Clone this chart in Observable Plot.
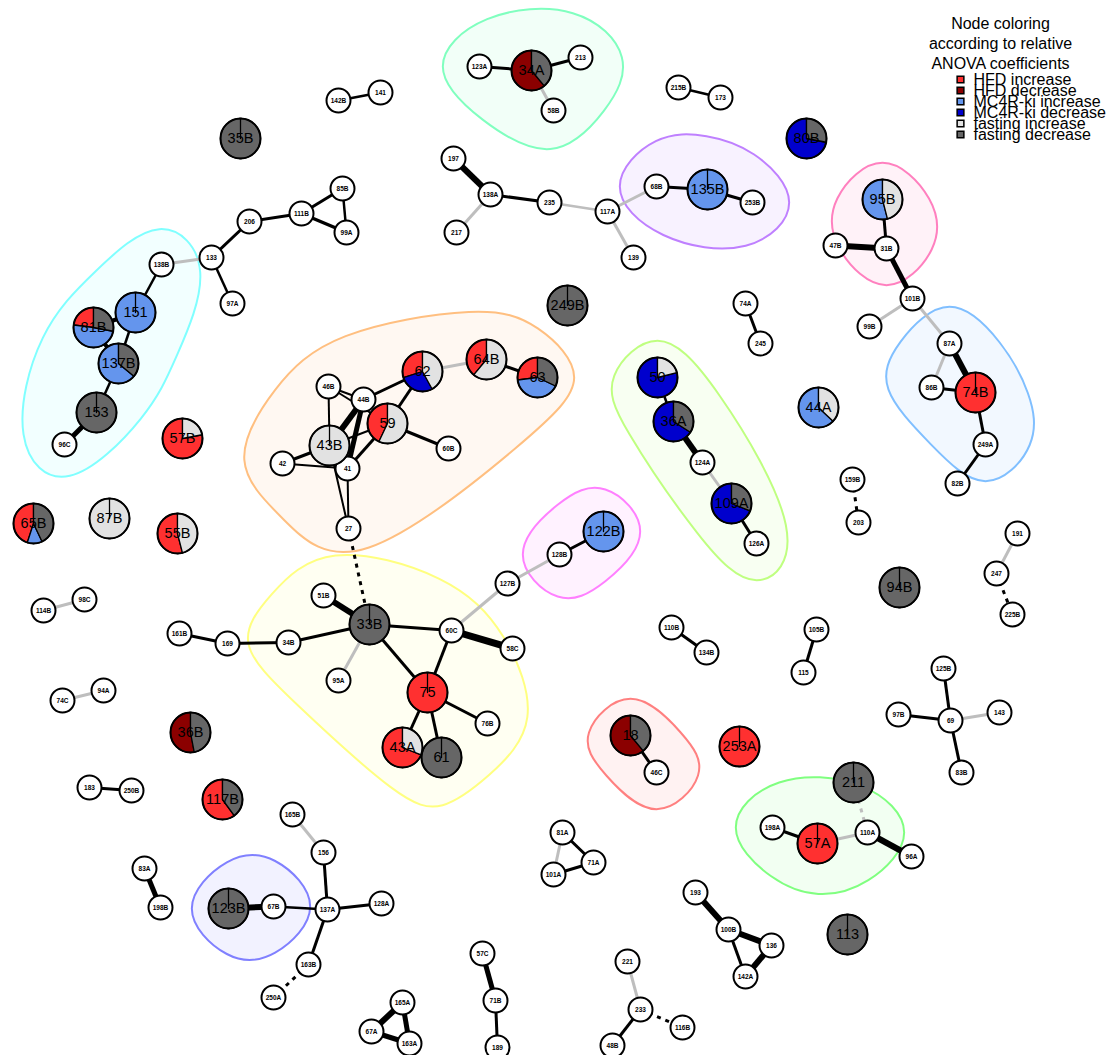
<!DOCTYPE html>
<html>
<head>
<meta charset="utf-8">
<script src="https://cdn.jsdelivr.net/npm/d3@7"></script>
<script src="https://cdn.jsdelivr.net/npm/@observablehq/plot@0.6"></script>
<style>
  body { margin: 0; background: #fff; }
  svg { display: block; }
</style>
</head>
<body>
<div id="chart"></div>
<script>
// ---------- network data ----------
// Vertex identifiers and their 2-D layout coordinates
const nodeIds = ["142B","141","35B","85B","111B","99A","206","133","123A","34A","213","58B","215B","173","197","138A","217","235","117A","139","68B","135B","253B","80B","95B","47B","31B","138B","97A","151","81B","137B","153","96C","57B","65B","87B","55B","46B","44B","43B","59","42","41","27","62","64B","63","60B","249B","74A","245","101B","99B","87A","86B","74B","249A","82B","50","36A","124A","109A","126A","44A","159B","203","191","247","225B","94B","122B","128B","127B","51B","33B","34B","95A","60C","58C","75","76B","43A","61","114B","98C","161B","169","74C","94A","36B","183","250B","117B","110B","134B","105B","115","125B","97B","69","143","83B","18","46C","253A","211","198A","57A","110A","96A","81A","71A","101A","165B","156","83A","198B","123B","67B","137A","128A","163B","250A","165A","67A","163A","57C","71B","189","193","100B","136","142A","113","221","233","116B","48B"];
const layoutX = [338,380,240,342,301,346,249,211,479,531,580,553,678,720,453,490,456,549,607,633,656,707,752,806,882,835,886,161,232,135,93,118,96,64,182,33,109,177,328,363,329,387,282,347,348,422,486,537,448,567,745,760,912,869,949,931,975,985,957,657,673,702,731,756,818,852,858,1017,996,1012,899,603,559,507,323,369,288,338,451,512,427,487,402,441,43,84,179,227,62,103,190,89,131,222,671,706,816,803,943,898,950,999,961,630,656,739,853,772,817,867,911,562,593,553,292,323,144,160,228,273,327,381,308,273,402,371,409,482,495,497,695,728,771,745,847,627,640,682,612];
const layoutY = [100,92,138,188,213,232,221,257,66,70,57,110,87,97,158,194,232,202,211,257,186,189,202,138,199,245,248,264,303,312,327,363,412,444,438,523,518,533,386,399,445,423,463,468,528,371,359,377,448,305,303,343,298,326,343,387,392,444,483,377,421,462,503,543,407,479,522,533,573,614,587,531,554,583,595,624,642,680,630,648,692,723,747,757,610,599,633,643,700,690,732,787,790,799,627,652,629,672,668,714,720,712,772,735,772,746,782,827,843,832,856,832,862,874,814,852,868,907,908,906,909,903,964,997,1002,1031,1043,953,1000,1047,892,929,945,976,934,961,1009,1027,1045];

// Edges: endpoints, weight and correlation type
const edgeSource = ["142B","206","111B","111B","85B","206","133","133","138B","151","151","81B","137B","153","123A","34A","34A","215B","197","138A","138A","235","117A","117A","68B","135B","95B","47B","31B","101B","101B","87A","87A","86B","74B","249A","74A","50","36A","124A","109A","159B","191","247","46B","46B","46B","44B","44B","44B","42","42","43B","41","43B","27","27","59","59","62","64B","27","51B","33B","34B","169","33B","33B","33B","60C","60C","60C","127B","128B","75","75","75","114B","74C","183","110B","105B","125B","97B","69","69","18","211","198A","57A","110A","165B","156","67B","123B","137A","137A","163B","83A","165A","165A","67A","57C","71B","81A","81A","101A","193","100B","136","100B","233","233","233"];
const edgeTarget = ["141","111B","85B","99A","99A","133","138B","97A","151","81B","137B","137B","153","96C","34A","213","58B","173","138A","217","235","117A","68B","139","135B","253B","31B","31B","101B","99B","87A","74B","86B","74B","249A","82B","245","36A","124A","109A","126A","203","247","225B","43B","44B","59","43B","41","62","43B","41","59","59","41","41","43B","62","60B","64B","63","33B","33B","34B","169","161B","95A","60C","75","58C","127B","75","128B","122B","76B","43A","61","98C","94A","250B","134B","115","69","69","143","83B","46C","110A","57A","110A","96A","156","137A","137A","67B","128A","163B","250A","198B","67A","163A","163A","71B","189","71A","101A","71A","100B","136","142A","142A","221","48B","116B"];
const edgeWeight = [2.5,3,3,3.5,2.5,3,3,2.5,2.5,4,2.5,4,2.5,5,3,3,3,2.5,6,3,3,2.5,3,3,3,3,3,6,5,3,3,6,3,3,3,3,3,2.5,6,3,3,3,3,3,2,2,2,6,5,3,3,2,2,3,3,2,2,3,3,3,3,3,6,3,3,3,3,3,3,7,3,3,3,3,3,3,3,3,3,3,3,3,3,3,3,3,3,3,3,3,6,3,3,2.5,6,3,3,3,5,6,5,5,5,3,3,3,3,6,6,6,3,3,3,3];
const edgeType = ["pos","pos","pos","pos","pos","pos","neg","pos","pos","pos","pos","pos","pos","pos","pos","pos","neg","pos","pos","neg","pos","neg","neg","neg","pos","pos","pos","pos","pos","neg","neg","pos","neg","pos","pos","pos","pos","pos","pos","neg","pos","partial","neg","partial","pos","pos","pos","pos","pos","pos","pos","pos","pos","pos","pos","pos","pos","pos","pos","neg","pos","partial","pos","pos","pos","pos","neg","pos","pos","pos","neg","pos","neg","pos","pos","pos","pos","neg","neg","pos","pos","pos","pos","pos","neg","pos","pos","negPartial","pos","neg","pos","neg","pos","pos","pos","pos","pos","partial","pos","pos","pos","pos","pos","pos","pos","neg","pos","pos","pos","pos","pos","neg","pos","partial"];

// Relative ANOVA coefficients for the responding vertices
const categories = ["HFD increase","HFD decrease","MC4R-ki increase","MC4R-ki decrease","fasting increase","fasting decrease"];
const anovaNodes = ["35B","34A","80B","135B","95B","151","81B","137B","153","57B","65B","87B","55B","43B","59","62","64B","63","249B","50","36A","109A","44A","74B","94B","122B","33B","75","43A","61","36B","117B","18","253A","211","57A","113","123B"];
const hfdIncrease     = [0,0,0,0,0,0,.23,0,0,.78,.45,0,.54,0,.43,.30,.39,.27,0,0,0,0,0,1,0,0,0,1,.69,0,0,.60,0,1,0,1,0,0];
const hfdDecrease     = [0,.61,0,0,0,0,0,0,0,0,0,0,0,0,0,0,0,0,0,0,0,0,0,0,0,0,0,0,0,0,.53,0,.61,0,0,0,0,0];
const mc4rIncrease    = [0,0,0,1,.54,1,.49,.64,0,0,.12,0,0,0,0,0,0,.41,0,0,0,0,.63,0,0,1,0,0,0,0,0,0,0,0,0,0,0,0];
const mc4rDecrease    = [0,0,.72,0,0,0,0,0,0,0,0,0,0,0,0,.28,0,0,0,.79,.66,.69,0,0,0,0,0,0,0,0,0,0,0,0,0,0,0,0];
const fastingIncrease = [0,0,0,0,.46,0,0,0,0,.22,0,1,.46,1,.57,.42,.61,0,0,.21,0,0,.37,0,0,0,0,0,.31,0,0,0,0,0,0,0,0,0];
const fastingDecrease = [1,.39,.28,0,0,0,.28,.36,1,0,.43,0,0,0,0,0,0,.32,1,0,.34,.31,0,0,1,0,1,0,0,1,.47,.40,.39,0,1,0,1,1];

// Co-regulated modules
const moduleMembers = [
  ["18","46C"],
  ["46B","44B","43B","59","62","64B","63","42","41","27","60B"],
  ["51B","33B","34B","95A","60C","75","76B","43A","61"],
  ["50","36A","124A","109A","126A"],
  ["198A","57A","110A"],
  ["123A","34A","213","58B"],
  ["138B","151","81B","137B","153","96C"],
  ["87A","86B","74B","249A"],
  ["123B","67B"],
  ["68B","135B","253B"],
  ["128B","122B"],
  ["95B","31B"]
];

// ---------- styling ----------
const categoryColors = ["#ff3030","#8b0000","#6495ed","#0000cd","#e2e2e2","#666666"];
const moduleColors = moduleMembers.map((_, i) => d3.hsl(i * 360 / moduleMembers.length, 1, 0.75).formatHex());
const font = "Liberation Sans, Arial, Helvetica, sans-serif";
const rSmall = 12, rLarge = 20;

const pos = new Map(nodeIds.map((id, i) => [id, [layoutX[i], layoutY[i]]]));
const anovaSet = new Set(anovaNodes);
const nodes = nodeIds.map((id, i) => ({id, x: layoutX[i], y: layoutY[i], large: anovaSet.has(id)}));

// edges
const edges = edgeSource.map((s, i) => ({
  x1: pos.get(s)[0], y1: pos.get(s)[1],
  x2: pos.get(edgeTarget[i])[0], y2: pos.get(edgeTarget[i])[1],
  w: edgeWeight[i], type: edgeType[i]
}));

// module outlines: vertices pushed out in four directions, convex hull, smoothed
const expand = 55;
const hulls = moduleMembers.map((members, gi) => {
  const pts = [];
  for (const id of members) {
    const [x, y] = pos.get(id);
    pts.push([x, y], [x - expand, y], [x + expand, y], [x, y - expand], [x, y + expand]);
  }
  const hull = d3.polygonHull(pts);
  return hull.map(([x, y]) => ({x, y, color: moduleColors[gi]}));
});

// pie slices, starting at twelve o'clock and running counter-clockwise
const shares = [hfdIncrease, hfdDecrease, mc4rIncrease, mc4rDecrease, fastingIncrease, fastingDecrease];
const wedges = [];
anovaNodes.forEach((id, ni) => {
  const [cx, cy] = pos.get(id);
  const vals = shares.map(s => s[ni]);
  const total = d3.sum(vals);
  let a0 = 0;
  vals.forEach((v, ci) => {
    if (v <= 0) return;
    const a1 = a0 + v / total;
    const key = id + "-" + ci;
    wedges.push({key, x: cx, y: cy, color: categoryColors[ci]});
    const n = Math.max(2, Math.ceil((a1 - a0) * 144));
    for (let k = 0; k <= n; k++) {
      const a = 2 * Math.PI * (a0 + (a1 - a0) * k / n);
      wedges.push({key, x: cx - rLarge * Math.sin(a), y: cy - rLarge * Math.cos(a), color: categoryColors[ci]});
    }
    a0 = a1;
  });
});

// legend rows
const legendTitle = ["Node coloring", "according to relative", "ANOVA coefficients"];
const legendTitleRows = legendTitle.map((t, i) => ({t, x: 1000, y: 23 + i * 20}));
const legendRows = categories.map((t, i) => ({t, color: categoryColors[i], x: 960, y: 79 + i * 11}));

const marks = [];
hulls.forEach(h => {
  marks.push(Plot.line(h, {x: "x", y: "y", curve: "basis-closed",
    stroke: h[0].color, strokeWidth: 2, fill: h[0].color, fillOpacity: 0.1}));
});
marks.push(
  Plot.link(edges.filter(e => e.type === "neg"), {x1: "x1", y1: "y1", x2: "x2", y2: "y2", stroke: "#bebebe", strokeWidth: "w"}),
  Plot.link(edges.filter(e => e.type === "pos"), {x1: "x1", y1: "y1", x2: "x2", y2: "y2", stroke: "black", strokeWidth: "w"}),
  Plot.link(edges.filter(e => e.type === "partial"), {x1: "x1", y1: "y1", x2: "x2", y2: "y2", stroke: "black", strokeWidth: "w", strokeDasharray: "4,5"}),
  Plot.link(edges.filter(e => e.type === "negPartial"), {x1: "x1", y1: "y1", x2: "x2", y2: "y2", stroke: "#bebebe", strokeWidth: "w", strokeDasharray: "4,5"}),
  Plot.dot(nodes.filter(d => !d.large), {x: "x", y: "y", r: rSmall, fill: "white", stroke: "black", strokeWidth: 2}),
  Plot.line(wedges, {x: "x", y: "y", z: "key", fill: "color", stroke: "black", strokeWidth: 1.3, curve: "linear-closed"}),
  Plot.dot(nodes.filter(d => d.large), {x: "x", y: "y", r: rLarge, fill: "none", stroke: "black", strokeWidth: 2}),
  Plot.text(nodes.filter(d => !d.large), {x: "x", y: "y", text: "id", fontSize: 6.5, fontWeight: "bold", fontFamily: font, fill: "black"}),
  Plot.text(nodes.filter(d => d.large), {x: "x", y: "y", text: "id", fontSize: 14.5, fontFamily: font, fill: "black"}),
  Plot.text(legendTitleRows, {x: "x", y: "y", text: "t", fontSize: 16, fontFamily: font, fill: "black"}),
  Plot.dot(legendRows, {x: "x", y: "y", symbol: "square", r: 3.8, fill: "color", stroke: "black", strokeWidth: 1.5}),
  Plot.text(legendRows, {x: d => d.x + 13, y: "y", text: "t", textAnchor: "start", fontSize: 16, fontFamily: font, fill: "black"})
);

const chart = Plot.plot({
  width: 1110,
  height: 1055,
  margin: 0,
  style: {background: "white", fontFamily: font},
  x: {domain: [0, 1110], range: [0, 1110], axis: null},
  y: {domain: [0, 1055], range: [0, 1055], axis: null},
  color: {type: "identity"},
  marks
});
document.getElementById("chart").appendChild(chart);
</script>
</body>
</html>
